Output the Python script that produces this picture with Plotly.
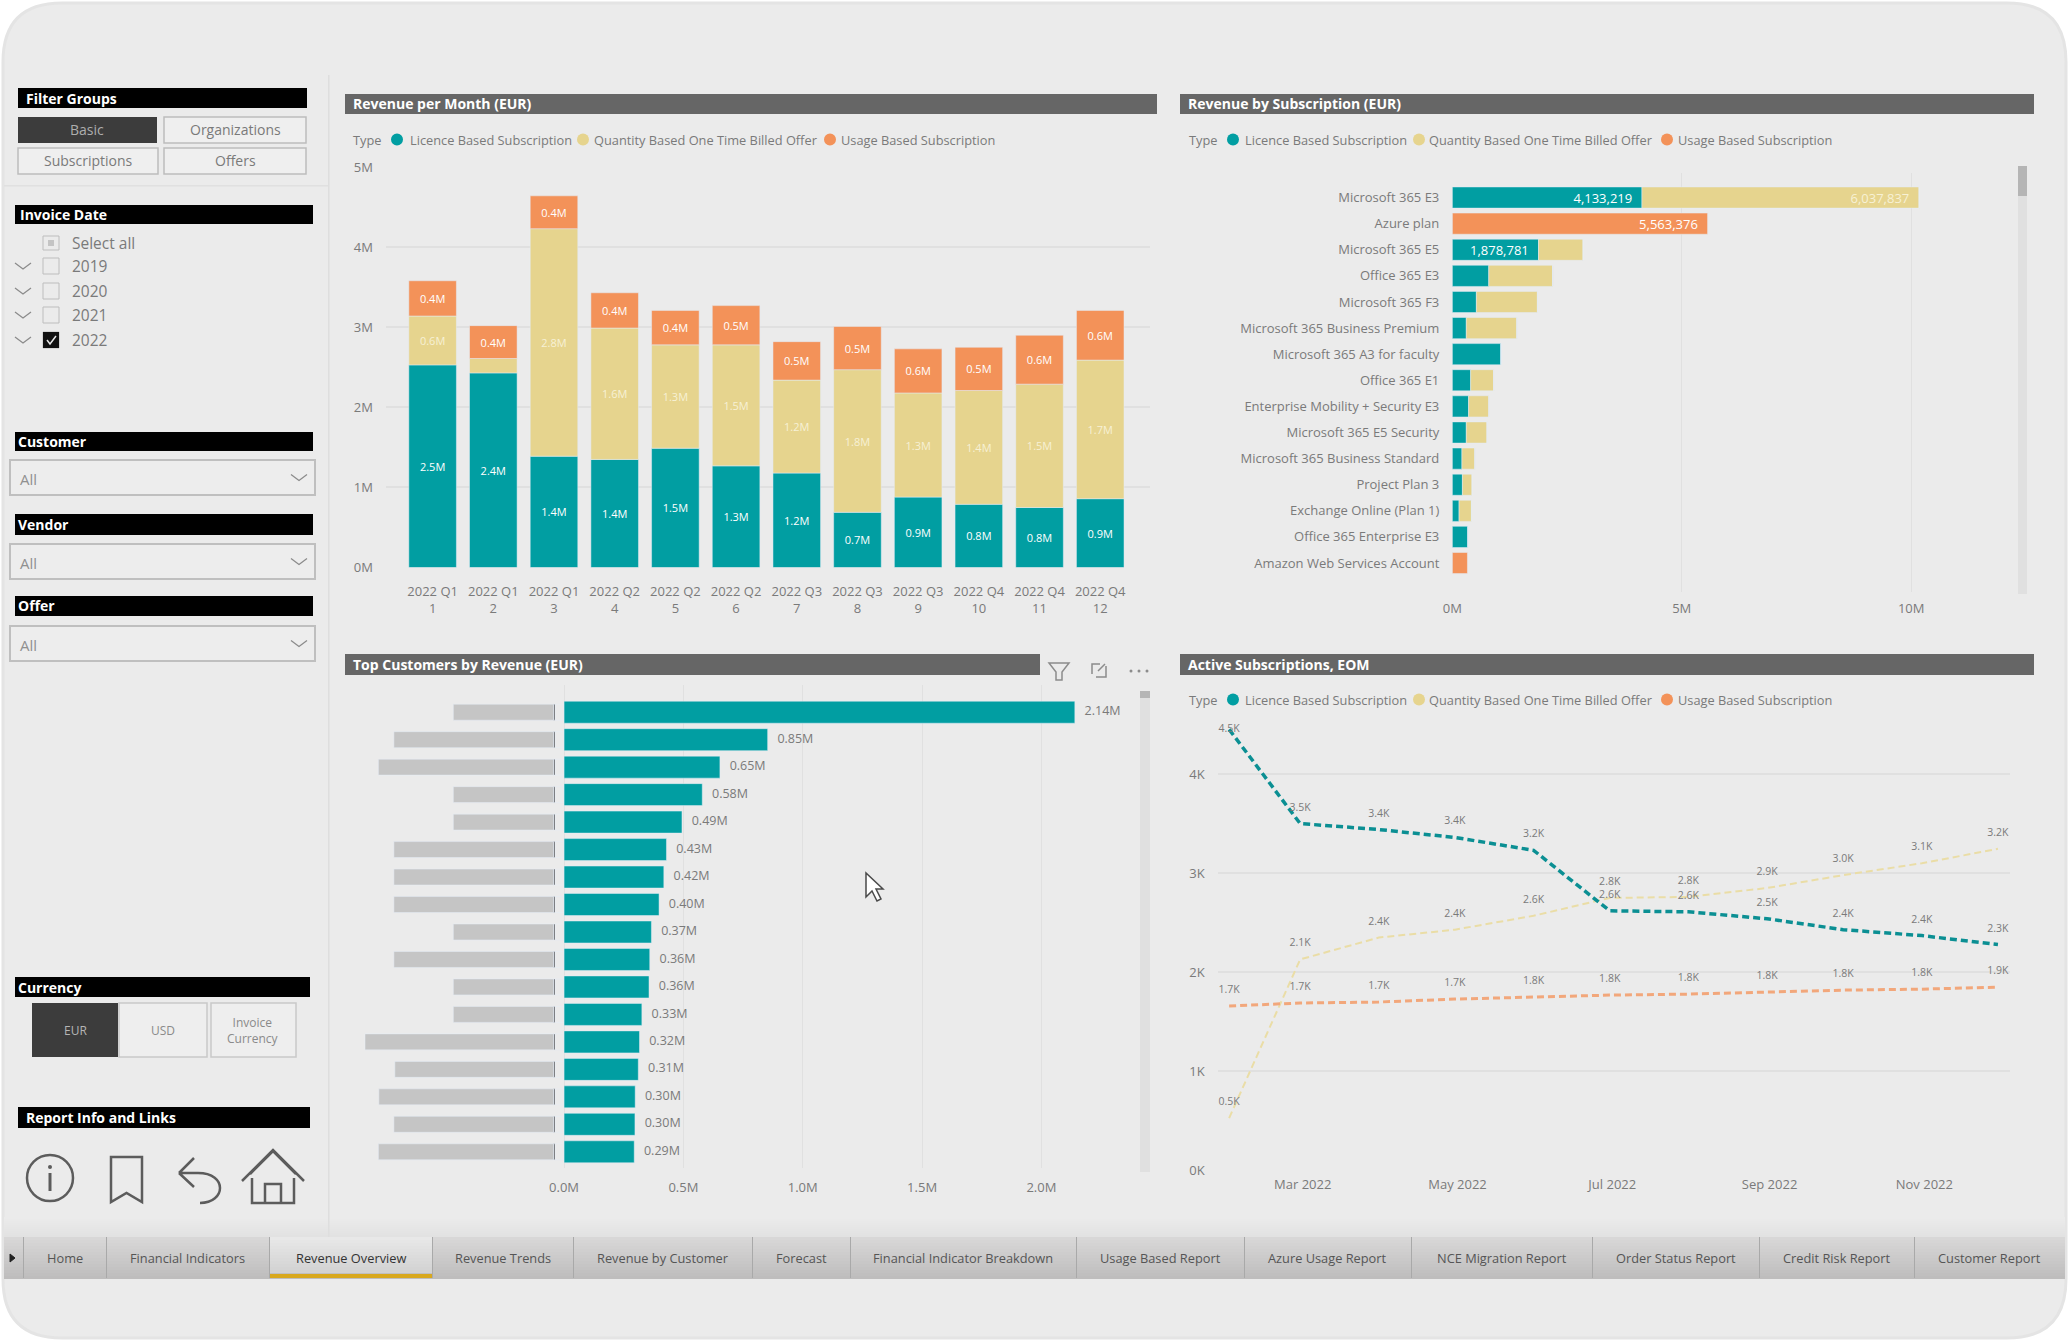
"""Revenue overview report page rebuilt as a single Plotly figure."""

import plotly.graph_objects as go

W, H = 2069, 1341
FONT = "Open Sans"
TEAL = "#019EA2"
YELLOW = "#E6D48E"
ORANGE = "#F39259"
GREY_TEXT = "#7A7A7A"
GRID = "#E0E0E0"
PAGE = "#EBEBEB"
PANEL_HEADER = "#666666"

# Revenue per Month (EUR, millions)
quarters = ["2022 Q1", "2022 Q1", "2022 Q1", "2022 Q2", "2022 Q2", "2022 Q2",
            "2022 Q3", "2022 Q3", "2022 Q3", "2022 Q4", "2022 Q4", "2022 Q4"]
month_numbers = [1, 2, 3, 4, 5, 6, 7, 8, 9, 10, 11, 12]
month_licence = [2.53, 2.43, 1.39, 1.35, 1.49, 1.27, 1.18, 0.69, 0.88, 0.79, 0.75, 0.86]
month_quantity = [0.61, 0.18, 2.84, 1.64, 1.29, 1.51, 1.16, 1.78, 1.30, 1.42, 1.54, 1.73]
month_usage = [0.44, 0.41, 0.41, 0.44, 0.43, 0.49, 0.48, 0.54, 0.55, 0.54, 0.61, 0.62]
month_ticks = [0, 1, 2, 3, 4, 5]
month_tick_labels = ["0M", "1M", "2M", "3M", "4M", "5M"]

# Revenue by Subscription (EUR)
subscriptions = ["Microsoft 365 E3", "Azure plan", "Microsoft 365 E5", "Office 365 E3",
                 "Microsoft 365 F3", "Microsoft 365 Business Premium",
                 "Microsoft 365 A3 for faculty", "Office 365 E1",
                 "Enterprise Mobility + Security E3", "Microsoft 365 E5 Security",
                 "Microsoft 365 Business Standard", "Project Plan 3",
                 "Exchange Online (Plan 1)", "Office 365 Enterprise E3",
                 "Amazon Web Services Account"]
sub_licence = [4133219, 0, 1878781, 795000, 525000, 305000, 1060000, 400000,
               355000, 305000, 210000, 220000, 147000, 340000, 0]
sub_quantity = [6037837, 0, 970000, 1390000, 1330000, 1100000, 0, 500000,
                440000, 450000, 280000, 210000, 270000, 0, 0]
sub_usage = [0, 5563376, 0, 0, 0, 0, 0, 0, 0, 0, 0, 0, 0, 0, 330000]

# Top Customers by Revenue (EUR, millions); names are masked by grey blocks
customer_rank = list(range(1, 18))
customer_revenue = [2.14, 0.853, 0.653, 0.579, 0.494, 0.429, 0.418, 0.398, 0.366,
                    0.359, 0.356, 0.326, 0.316, 0.311, 0.298, 0.297, 0.294]
masked_name_width = [0.42, 0.669, 0.734, 0.42, 0.42, 0.669, 0.669, 0.669, 0.42,
                     0.669, 0.42, 0.42, 0.79, 0.665, 0.732, 0.669, 0.734]

# Active Subscriptions, EOM (thousands)
eom_dates = ["2022-01-31", "2022-02-28", "2022-03-31", "2022-04-30", "2022-05-31", "2022-06-30",
             "2022-07-31", "2022-08-31", "2022-09-30", "2022-10-31", "2022-11-30"]
active_licence = [4.45, 3.50, 3.44, 3.36, 3.23, 2.62, 2.61, 2.54, 2.43, 2.37, 2.28]
active_quantity = [0.53, 2.13, 2.35, 2.43, 2.57, 2.75, 2.76, 2.85, 2.98, 3.10, 3.245]
active_usage = [1.66, 1.69, 1.70, 1.73, 1.75, 1.77, 1.78, 1.80, 1.82, 1.83, 1.85]
active_ticks = [0, 1, 2, 3, 4]
active_tick_labels = ["0K", "1K", "2K", "3K", "4K"]

legend_names = ["Licence Based Subscription", "Quantity Based One Time Billed Offer",
                "Usage Based Subscription"]
tab_names = ["Home", "Financial Indicators", "Revenue Overview", "Revenue Trends",
             "Revenue by Customer", "Forecast", "Financial Indicator Breakdown",
             "Usage Based Report", "Azure Usage Report", "NCE Migration Report",
             "Order Status Report", "Credit Risk Report", "Customer Report"]
tab_edges = [23, 106, 269, 432, 573, 752, 850, 1076, 1244, 1411, 1592, 1759, 1914, 2065]

shapes = []
notes = []


def dom_x(x0, x1):
    return [x0 / W, x1 / W]


def dom_y(y0, y1):
    return [1 - y1 / H, 1 - y0 / H]


def rect(x0, y0, x1, y1, fill="rgba(0,0,0,0)", line=None, width=1):
    shapes.append(dict(type="rect", xref="paper", yref="paper", layer="below",
                       x0=x0 / W, x1=x1 / W, y0=1 - y0 / H, y1=1 - y1 / H,
                       fillcolor=fill, line=dict(color=line or fill, width=width if line else 0)))


def circle(cx, cy, r, fill="rgba(0,0,0,0)", line=None, width=1):
    shapes.append(dict(type="circle", xref="paper", yref="paper", layer="below",
                       x0=(cx - r) / W, x1=(cx + r) / W, y0=1 - (cy - r) / H, y1=1 - (cy + r) / H,
                       fillcolor=fill, line=dict(color=line or fill, width=width if line else 0)))


def path(d, line="#555555", width=1.5, fill="rgba(0,0,0,0)"):
    """Takes an SVG path in page pixels and converts it to paper coordinates."""
    out, is_x = [], True
    for tok in d.split():
        if tok.isalpha():
            out.append(tok)
            is_x = True
        else:
            out.append(str(float(tok) / W if is_x else 1 - float(tok) / H))
            is_x = not is_x
    shapes.append(dict(type="path", xref="paper", yref="paper", layer="below",
                       path=" ".join(out), fillcolor=fill, line=dict(color=line, width=width)))


def note(x, y, text, size=12, color=GREY_TEXT, anchor="left", bold=False):
    notes.append(dict(xref="paper", yref="paper", x=x / W, y=1 - y / H, text=f"<b>{text}</b>" if bold else text,
                      showarrow=False, xanchor=anchor, yanchor="middle",
                      font=dict(family=FONT, size=size, color=color)))


def header(x0, y0, x1, y1, text, fill="#000000", pad=6, size=14):
    rect(x0, y0, x1, y1, fill)
    note(x0 + pad, (y0 + y1) / 2, text, size=size, color="#FFFFFF", bold=True)


def legend_row(y, xs):
    colors = [TEAL, YELLOW, ORANGE]
    note(xs[0], y, "Type", size=12.8)
    for i, name in enumerate(legend_names):
        circle(xs[1 + 2 * i], y, 6, colors[i])
        note(xs[2 + 2 * i], y, name, size=12.8)


def chevron(cx, cy, half=8, drop=6):
    path(f"M {cx - half} {cy - drop / 2} L {cx} {cy + drop / 2} L {cx + half} {cy - drop / 2}",
         line="#8A8A8A", width=1.2)


# page frame
path("M 62 3 L 2007 3 Q 2066 3 2066 62 L 2066 1279 Q 2066 1338 2007 1338 "
     "L 62 1338 Q 3 1338 3 1279 L 3 62 Q 3 3 62 3 Z", line="#E4E4E4", width=3, fill=PAGE)
for i in range(10):
    shade = 235 - i
    rect(4, 1217 + 2 * i, 2065, 1219 + 2 * i, f"rgb({shade},{shade},{shade})")
rect(328, 75, 329.5, 1237, "#DEDEDE")
rect(4, 185, 328, 186.5, "#E0E0E0")

# left rail
header(18, 88, 307, 108, "Filter Groups")
rect(18, 117, 157, 143, "#3C3C3C")
note(87, 130, "Basic", color="#AEAEAE", anchor="center", size=14)
for x0, x1, y0, y1, label in [(164, 306, 117, 143, "Organizations"), (18, 158, 148, 174, "Subscriptions"),
                              (164, 306, 148, 174, "Offers")]:
    rect(x0, y0, x1, y1, "#EFEFEF", "#BDBDBD", 1.5)
    note((x0 + x1) / 2, (y0 + y1) / 2, label, color="#7A7A7A", anchor="center", size=14)

header(15, 205, 313, 224, "Invoice Date", pad=3)
rect(43, 236, 59, 250, line="#BDBDBD")
rect(48, 240, 54, 246, "#C4C4C4")
note(70, 243, "Select all", size=15.5)
for y, year in zip([266, 291, 315, 340], ["2019", "2020", "2021", "2022"]):
    chevron(23, y)
    rect(43, y - 8, 59, y + 8, line="#BDBDBD")
    note(70, y, year, size=15.5)
rect(43, 332, 59, 348, "#111111")
path("M 47 340 L 50 344 L 56 336", line="#E8E8E8", width=1.5)

for y0, y1, drop0, drop1, label in [(432, 451, 460, 495, "Customer"), (514, 535, 544, 579, "Vendor"),
                                    (596, 616, 626, 661, "Offer")]:
    header(15, y0, 313, y1, label, pad=1)
    rect(10, drop0, 315, drop1, "#EDEDED", "#BFBFBF", 2)
    note(18, (drop0 + drop1) / 2 + 1, "All", size=15, color="#909090")
    chevron(299, (drop0 + drop1) / 2)

header(15, 977, 310, 997, "Currency", pad=1)
rect(32, 1003, 118, 1057, "#3C3C3C")
note(75, 1030, "EUR", color="#B5B5B5", anchor="center", size=12)
rect(119, 1003, 207, 1057, "#EEEEEE", "#C9C9C9", 1.5)
note(163, 1030, "USD", anchor="center", size=12, color="#8A8A8A")
rect(211, 1003, 296, 1057, "#EEEEEE", "#C9C9C9", 1.5)
note(253, 1030, "Invoice<br>Currency", anchor="center", size=12, color="#8A8A8A")
header(18, 1107, 310, 1128, "Report Info and Links")

# report link icons
circle(50, 1178, 23, line="#5C5C5C", width=2.5)
circle(50, 1167, 2, "#5C5C5C")
path("M 50 1173 L 50 1191", line="#5C5C5C", width=3)
path("M 111 1157 L 142 1157 L 142 1202 L 126.5 1193 L 111 1202 Z", line="#5C5C5C", width=2.5)
path("M 179 1173 L 194 1158 M 179 1173 L 194 1187 M 179 1173 L 198 1173 "
     "C 228 1173 226 1203 200 1203", line="#5C5C5C", width=2.5)
path("M 242 1181 L 273 1150 L 304 1181 M 250 1174 L 273 1151 L 296 1174", line="#5C5C5C", width=2.5)
path("M 252 1178 L 252 1203 L 294 1203 L 294 1178 M 265 1203 L 265 1184 L 281 1184 L 281 1203",
     line="#5C5C5C", width=2.5)

# page tabs
for i in range(14):
    shade = 216 - 2 * i
    rect(4, 1237 + 3 * i, 2065, 1240 + 3 * i, f"rgb({shade},{shade - 1},{shade - 1})")
for i in range(12):
    shade = 232 - 2 * i
    rect(tab_edges[2], 1237 + 3 * i, tab_edges[3], 1240 + 3 * i, f"rgb({shade},{shade},{shade})")
rect(tab_edges[2], 1274, tab_edges[3], 1278, "#D8A81E")
path("M 10 1254 L 15 1258 L 10 1262 Z", line="#222222", width=1, fill="#222222")
for edge in tab_edges[:-1]:
    rect(edge, 1237, edge + 1, 1278, "#A9A9A9")
for i, name in enumerate(tab_names):
    note((tab_edges[i] + tab_edges[i + 1]) / 2, 1257.5, name, size=12.8,
         color="#333333" if i == 2 else "#555555", anchor="center")

# panel headers and legends
header(345, 94, 1157, 114, "Revenue per Month (EUR)", fill=PANEL_HEADER)
header(1180, 94, 2034, 114, "Revenue by Subscription (EUR)", fill=PANEL_HEADER)
header(345, 654, 1040, 675, "Top Customers by Revenue (EUR)", fill=PANEL_HEADER)
header(1180, 654, 2034, 675, "Active Subscriptions, EOM", fill=PANEL_HEADER)
legend_row(139.5, [351, 397, 408, 583, 592, 830, 839])
legend_row(139.5, [1187, 1233, 1243, 1419, 1427, 1667, 1676])
legend_row(699.5, [1187, 1233, 1243, 1419, 1427, 1667, 1676])

# scrollbars, visual header icons, mouse pointer
rect(2018, 166, 2027, 594, "#E0E0E0")
rect(2018, 166, 2027, 196, "#B5B5B5")
rect(1140, 691, 1150, 1172, "#E0E0E0")
rect(1140, 691, 1150, 698, "#B5B5B5")
path("M 1049 663 L 1069 663 L 1062 672 L 1062 680 L 1056 680 L 1056 672 Z", line="#8C8C8C", width=1.5)
path("M 1092 674 L 1092 664 L 1100 664 M 1106 666 L 1106 677 L 1096 677 M 1098 671 L 1105 664",
     line="#8C8C8C", width=1.5)
for dot_x in [1131, 1139, 1147]:
    circle(dot_x, 671, 1.5, "#8C8C8C")
path("M 866 873 L 866 897 L 872 891 L 877 901 L 881 899 L 876 889 L 883 889 Z",
     line="#4A4A4A", width=1.5, fill="#FFFFFF")

fig = go.Figure()

# Revenue per Month
month_x = [f"{q}<br>{m}" for q, m in zip(quarters, month_numbers)]
for values, color, font_color in [(month_licence, TEAL, "#FFFFFF"), (month_quantity, YELLOW, "#F7F1D5"),
                                  (month_usage, ORANGE, "#FFFFFF")]:
    fig.add_trace(go.Bar(x=month_x, y=values, marker_color=color, width=0.784, xaxis="x", yaxis="y",
                         text=[f"{v:.1f}M" if v >= 0.3 else "" for v in values],
                         textposition="inside", insidetextanchor="middle", textangle=0,
                         constraintext="none", cliponaxis=False,
                         textfont=dict(family=FONT, size=11, color=font_color)))

# Revenue by Subscription
for values, color, font_color in [(sub_licence, TEAL, "#FFFFFF"), (sub_quantity, YELLOW, "#F7F1D5"),
                                  (sub_usage, ORANGE, "#FFFFFF")]:
    fig.add_trace(go.Bar(y=subscriptions, x=values, orientation="h", marker_color=color, width=0.81,
                         xaxis="x2", yaxis="y2",
                         text=[f"{v:,.0f}  " if v >= 1500000 else "" for v in values],
                         textposition="inside", insidetextanchor="end", textangle=0,
                         constraintext="none",
                         textfont=dict(family=FONT, size=13, color=font_color)))

# Top Customers, masked names are negative bars left of the axis
fig.add_trace(go.Bar(y=customer_rank, x=[-0.038] * 17, orientation="h", marker_color="rgba(0,0,0,0)",
                     width=0.58, xaxis="x3", yaxis="y3"))
fig.add_trace(go.Bar(y=customer_rank, x=[-0.006] * 17, orientation="h", marker_color="#555555",
                     width=0.58, xaxis="x3", yaxis="y3"))
fig.add_trace(go.Bar(y=customer_rank, x=[-w for w in masked_name_width], orientation="h",
                     marker_color="#C5C5C5", width=0.58, xaxis="x3", yaxis="y3"))
fig.add_trace(go.Bar(y=customer_rank, x=customer_revenue, orientation="h", marker_color=TEAL,
                     width=0.8, xaxis="x3", yaxis="y3"))
fig.add_trace(go.Scatter(y=customer_rank, x=customer_revenue, mode="text", xaxis="x3", yaxis="y3",
                         text=[f"\u00a0\u00a0\u00a0{v:.2f}M" for v in customer_revenue],
                         textposition="middle right", cliponaxis=False,
                         textfont=dict(family=FONT, size=12.5, color=GREY_TEXT)))

# Active Subscriptions
for values, color, width, first_pos in [(active_quantity, "#EADDA6", 2, "top center"),
                                        (active_usage, "#F2A77B", 3, "top center"),
                                        (active_licence, "#0B8F93", 3.5, "middle center")]:
    fig.add_trace(go.Scatter(x=eom_dates, y=values, mode="lines+markers+text", xaxis="x4", yaxis="y4",
                             line=dict(color=color, width=width, dash="7px,4px"),
                             marker=dict(size=15, opacity=0),
                             text=[f"{v:.1f}K" for v in values],
                             textposition=[first_pos] + ["top center"] * 10, cliponaxis=False,
                             textfont=dict(family=FONT, size=10.5, color=GREY_TEXT)))

axis_font = dict(family=FONT, size=13, color=GREY_TEXT)
fig.update_layout(
    width=W, height=H, margin=dict(l=0, r=0, t=0, b=0, autoexpand=False), autosize=False,
    paper_bgcolor="#FFFFFF", plot_bgcolor="rgba(0,0,0,0)",
    barmode="relative", showlegend=False, hovermode=False,
    shapes=shapes, annotations=notes,
    xaxis=dict(domain=dom_x(386, 1150), type="category", range=[-0.768, 11.82], showgrid=False,
               zeroline=False, ticks="", tickfont=axis_font, ticklabelstandoff=14, anchor="y"),
    yaxis=dict(domain=dom_y(167, 567.6), range=[0, 5], tickvals=month_ticks, ticktext=month_tick_labels,
               gridcolor=GRID, gridwidth=1.5, zeroline=False, ticks="", tickfont=axis_font,
               ticklabelstandoff=12, anchor="x"),
    xaxis2=dict(domain=dom_x(1452.3, 1980), range=[0, 11500000], tickvals=[0, 5000000, 10000000],
                ticktext=["0M", "5M", "10M"], gridcolor=GRID, zeroline=False, ticks="",
                tickfont=axis_font, ticklabelstandoff=7, anchor="y2"),
    yaxis2=dict(domain=dom_y(173, 592), type="category", categoryorder="array", categoryarray=subscriptions,
                range=[15.11, -0.94], showgrid=False, zeroline=False, ticks="", tickfont=axis_font,
                ticklabelstandoff=12, anchor="x2"),
    xaxis3=dict(domain=dom_x(360, 1145), range=[-0.855, 2.434], tickvals=[0, 0.5, 1, 1.5, 2],
                ticktext=["0.0M", "0.5M", "1.0M", "1.5M", "2.0M"], gridcolor=GRID, zeroline=False,
                ticks="", tickfont=axis_font, ticklabelstandoff=10, anchor="y3"),
    yaxis3=dict(domain=dom_y(685, 1168), range=[17.59, 0.01], showticklabels=False, showgrid=False,
                zeroline=False, anchor="x3"),
    xaxis4=dict(domain=dom_x(1217.7, 2010), type="date", range=["2022-01-26 12:00", "2022-12-04 18:00"],
                tick0="2022-03-01", dtick="M2", tickformat="%b %Y", showgrid=False, zeroline=False,
                ticks="", tickfont=axis_font, ticklabelstandoff=4, anchor="y4"),
    yaxis4=dict(domain=dom_y(714.5, 1170.6), range=[0, 4.6], tickvals=active_ticks, ticktext=active_tick_labels,
                gridcolor=GRID, gridwidth=1.5, zeroline=False, ticks="", tickfont=axis_font,
                ticklabelstandoff=12, anchor="x4"),
)

# plotly's page template leaves the default body margin, pin the graph to the window corner
page_fix = """
document.documentElement.style.margin = '0';
document.body.style.margin = '0';
document.body.style.overflow = 'hidden';
var gd = document.getElementById('{plot_id}');
gd.style.position = 'fixed';
gd.style.left = '0px';
gd.style.top = '0px';
"""
fig.write_html("out.html", config={"displayModeBar": False}, post_script=page_fix)
